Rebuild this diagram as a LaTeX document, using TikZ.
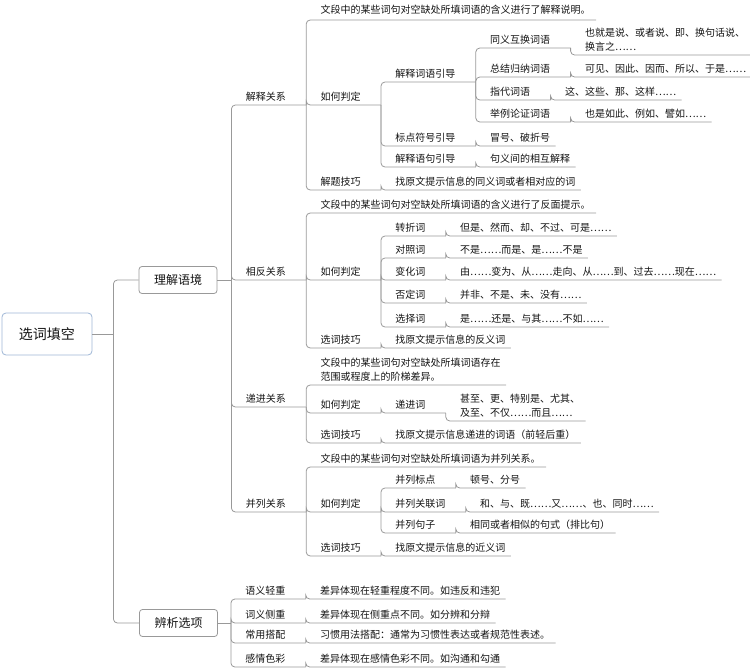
\documentclass[tikz,border=0pt]{standalone}
\usepackage{fontspec}
\setmainfont{Noto Sans CJK SC}
\usetikzlibrary{positioning}

\definecolor{linegray}{HTML}{999999}
\definecolor{rootblue}{HTML}{9FB6D6}
\definecolor{textdark}{HTML}{141414}

\begin{document}
\begin{tikzpicture}[x=1pt, y=-1pt, line width=0.8pt, text=textdark]
  \tikzstyle{rootbox}=[draw=rootblue, rounded corners=4pt, fill=white,
    minimum width=90pt, minimum height=42pt, font=\fontsize{14}{16}\selectfont]
  \tikzstyle{mainbox}=[draw=linegray, rounded corners=3pt, fill=white,
    minimum width=78pt, minimum height=27pt, font=\fontsize{12}{14}\selectfont]
  \tikzstyle{item}=[anchor=south west, inner xsep=0pt, inner ysep=3.5pt,
    font=\fontsize{10}{14}\selectfont, execute at begin node=\hspace*{14pt}]
  \tikzstyle{topic}=[item, text height=8.5pt, text depth=1pt,
    execute at end node=\hspace*{20pt}]
  \tikzstyle{leaf}=[item, text height=8.5pt, text depth=1pt,
    execute at end node=\hspace*{5pt}]
  \tikzstyle{note}=[item, align=left, execute at end node=\hspace*{5pt}]
  \tikzstyle{link}=[draw=linegray, rounded corners=4pt]

  \useasboundingbox (0,0) rectangle (750,669);

  % root and the two main branches
  \node[rootbox] (xcxk) at (47,334) {选词填空};
  \node[mainbox] (ljyj) at (178,280) {理解语境};
  \node[mainbox] (bxxx) at (178.5,623) {辨析选项};
  \coordinate[right=21pt of xcxk] (rj);
  \coordinate[right=14pt of ljyj] (lj);
  \coordinate[right=13pt of bxxx] (bx);

  % 解释关系
  \node[topic] (jsgx) at (lj |- 0,105) {解释关系};
  \node[leaf, inner ysep=5pt] (jsgx-ms) at (jsgx.south east |- 0,20) {文段中的某些词句对空缺处所填词语的含义进行了解释说明。};
  \node[topic] (jsgx-pd) at (jsgx.south east |- 0,105) {如何判定};
  \node[topic] (jsyd) at (jsgx-pd.south east |- 0,82) {解释词语引导};
  \node[topic] (tyhh) at (jsyd.south east |- 0,48) {同义互换词语};
  \node[note] (tyhh-l) at (tyhh.south east |- 0,55) {也就是说、或者说、即、换句话说、\\换言之……};
  \node[topic] (zjgn) at (jsyd.south east |- 0,77) {总结归纳词语};
  \node[leaf] (zjgn-l) at (zjgn.south east |- 0,77) {可见、因此、因而、所以、于是……};
  \node[topic] (zdcy) at (jsyd.south east |- 0,100) {指代词语};
  \node[leaf] (zdcy-l) at (zdcy.south east |- 0,100) {这、这些、那、这样……};
  \node[topic] (jllz) at (jsyd.south east |- 0,122) {举例论证词语};
  \node[leaf] (jllz-l) at (jllz.south east |- 0,122) {也是如此、例如、譬如……};
  \node[topic] (bdfh) at (jsgx-pd.south east |- 0,146) {标点符号引导};
  \node[leaf] (bdfh-l) at (bdfh.south east |- 0,146) {冒号、破折号};
  \node[topic] (jsjy) at (jsgx-pd.south east |- 0,167) {解释语句引导};
  \node[leaf] (jsjy-l) at (jsjy.south east |- 0,167) {句义间的相互解释};
  \node[topic] (jsgx-jq) at (jsgx.south east |- 0,190) {解题技巧};
  \node[leaf] (jsgx-jq-l) at (jsgx-jq.south east |- 0,190) {找原文提示信息的同义词或者相对应的词};

  % 相反关系
  \node[topic] (xfgx) at (lj |- 0,280) {相反关系};
  \node[leaf] (xfgx-ms) at (xfgx.south east |- 0,213) {文段中的某些词句对空缺处所填词语的含义进行了反面提示。};
  \node[topic] (xfgx-pd) at (xfgx.south east |- 0,280) {如何判定};
  \node[topic] (zzc) at (xfgx-pd.south east |- 0,236) {转折词};
  \node[leaf] (zzc-l) at (zzc.south east |- 0,236) {但是、然而、却、不过、可是……};
  \node[topic] (dzc) at (xfgx-pd.south east |- 0,258) {对照词};
  \node[leaf] (dzc-l) at (dzc.south east |- 0,258) {不是……而是、是……不是};
  \node[topic] (bhc) at (xfgx-pd.south east |- 0,280) {变化词};
  \node[leaf] (bhc-l) at (bhc.south east |- 0,280) {由……变为、从……走向、从……到、过去……现在……};
  \node[topic] (fdc) at (xfgx-pd.south east |- 0,303) {否定词};
  \node[leaf] (fdc-l) at (fdc.south east |- 0,303) {并非、不是、未、没有……};
  \node[topic] (xzc) at (xfgx-pd.south east |- 0,327) {选择词};
  \node[leaf] (xzc-l) at (xzc.south east |- 0,327) {是……还是、与其……不如……};
  \node[topic] (xfgx-jq) at (xfgx.south east |- 0,348) {选词技巧};
  \node[leaf] (xfgx-jq-l) at (xfgx-jq.south east |- 0,348) {找原文提示信息的反义词};

  % 递进关系
  \node[topic] (djgx) at (lj |- 0,407) {递进关系};
  \node[note] (djgx-ms) at (djgx.south east |- 0,385) {文段中的某些词句对空缺处所填词语存在\\范围或程度上的阶梯差异。};
  \node[topic] (djgx-pd) at (djgx.south east |- 0,413) {如何判定};
  \node[topic] (djc) at (djgx-pd.south east |- 0,413) {递进词};
  \node[note] (djc-l) at (djc.south east |- 0,421) {甚至、更、特别是、尤其、\\及至、不仅……而且……};
  \node[topic] (djgx-jq) at (djgx.south east |- 0,443) {选词技巧};
  \node[leaf] (djgx-jq-l) at (djgx-jq.south east |- 0,443) {找原文提示信息递进的词语（前轻后重）};

  % 并列关系
  \node[topic] (blgx) at (lj |- 0,512) {并列关系};
  \node[leaf] (blgx-ms) at (blgx.south east |- 0,467) {文段中的某些词句对空缺处所填词语为并列关系。};
  \node[topic] (blgx-pd) at (blgx.south east |- 0,512) {如何判定};
  \node[topic] (blbd) at (blgx-pd.south east |- 0,488) {并列标点};
  \node[leaf] (blbd-l) at (blbd.south east |- 0,488) {顿号、分号};
  \node[topic] (blgl) at (blgx-pd.south east |- 0,512) {并列关联词};
  \node[leaf] (blgl-l) at (blgl.south east |- 0,512) {和、与、既……又……、也、同时……};
  \node[topic] (bljz) at (blgx-pd.south east |- 0,533) {并列句子};
  \node[leaf] (bljz-l) at (bljz.south east |- 0,533) {相同或者相似的句式（排比句）};
  \node[topic] (blgx-jq) at (blgx.south east |- 0,556) {选词技巧};
  \node[leaf] (blgx-jq-l) at (blgx-jq.south east |- 0,556) {找原文提示信息的近义词};

  % 辨析选项
  \node[topic] (yyqz) at (bx |- 0,599) {语义轻重};
  \node[leaf] (yyqz-l) at (yyqz.south east |- 0,599) {差异体现在轻重程度不同。如违反和违犯};
  \node[topic] (cycz) at (bx |- 0,623) {词义侧重};
  \node[leaf] (cycz-l) at (cycz.south east |- 0,623) {差异体现在侧重点不同。如分辨和分辩};
  \node[topic] (cydp) at (bx |- 0,643) {常用搭配};
  \node[leaf] (cydp-l) at (cydp.south east |- 0,643) {习惯用法搭配：通常为习惯性表达或者规范性表述。};
  \node[topic] (qgsc) at (bx |- 0,667) {感情色彩};
  \node[leaf] (qgsc-l) at (qgsc.south east |- 0,667) {差异体现在感情色彩不同。如沟通和勾通};

  % connectors
  \draw[link] (xcxk) -- (rj);
  \draw[link] (rj) |- (ljyj);
  \draw[link] (rj) |- (bxxx);
  \draw[link] (ljyj) -- (lj);
  \draw[link] (bxxx) -- (bx);

  \draw[link] (lj) |- (jsgx.south east);
  \draw[link] (lj) |- (xfgx.south east);
  \draw[link] (lj) |- (djgx.south east);
  \draw[link] (lj) |- (blgx.south east);

  \draw[link] (jsgx.south east) |- (jsgx-ms.south east);
  \draw[link] (jsgx.south east) |- (jsgx-pd.south east);
  \draw[link] (jsgx.south east) |- (jsgx-jq.south east);
  \draw[link] (jsgx-pd.south east) |- (jsyd.south east);
  \draw[link] (jsgx-pd.south east) |- (bdfh.south east);
  \draw[link] (jsgx-pd.south east) |- (jsjy.south east);
  \draw[link] (jsyd.south east) |- (tyhh.south east);
  \draw[link] (jsyd.south east) |- (zjgn.south east);
  \draw[link] (jsyd.south east) |- (zdcy.south east);
  \draw[link] (jsyd.south east) |- (jllz.south east);
  \draw[link] (tyhh.south east) |- (tyhh-l.south east);
  \draw[link] (zjgn.south east) |- (zjgn-l.south east);
  \draw[link] (zdcy.south east) |- (zdcy-l.south east);
  \draw[link] (jllz.south east) |- (jllz-l.south east);
  \draw[link] (bdfh.south east) |- (bdfh-l.south east);
  \draw[link] (jsjy.south east) |- (jsjy-l.south east);
  \draw[link] (jsgx-jq.south east) |- (jsgx-jq-l.south east);

  \draw[link] (xfgx.south east) |- (xfgx-ms.south east);
  \draw[link] (xfgx.south east) |- (xfgx-pd.south east);
  \draw[link] (xfgx.south east) |- (xfgx-jq.south east);
  \draw[link] (xfgx-pd.south east) |- (zzc.south east);
  \draw[link] (xfgx-pd.south east) |- (dzc.south east);
  \draw[link] (xfgx-pd.south east) |- (bhc.south east);
  \draw[link] (xfgx-pd.south east) |- (fdc.south east);
  \draw[link] (xfgx-pd.south east) |- (xzc.south east);
  \draw[link] (zzc.south east) |- (zzc-l.south east);
  \draw[link] (dzc.south east) |- (dzc-l.south east);
  \draw[link] (bhc.south east) |- (bhc-l.south east);
  \draw[link] (fdc.south east) |- (fdc-l.south east);
  \draw[link] (xzc.south east) |- (xzc-l.south east);
  \draw[link] (xfgx-jq.south east) |- (xfgx-jq-l.south east);

  \draw[link] (djgx.south east) |- (djgx-ms.south east);
  \draw[link] (djgx.south east) |- (djgx-pd.south east);
  \draw[link] (djgx.south east) |- (djgx-jq.south east);
  \draw[link] (djgx-pd.south east) |- (djc.south east);
  \draw[link] (djc.south east) |- (djc-l.south east);
  \draw[link] (djgx-jq.south east) |- (djgx-jq-l.south east);

  \draw[link] (blgx.south east) |- (blgx-ms.south east);
  \draw[link] (blgx.south east) |- (blgx-pd.south east);
  \draw[link] (blgx.south east) |- (blgx-jq.south east);
  \draw[link] (blgx-pd.south east) |- (blbd.south east);
  \draw[link] (blgx-pd.south east) |- (blgl.south east);
  \draw[link] (blgx-pd.south east) |- (bljz.south east);
  \draw[link] (blbd.south east) |- (blbd-l.south east);
  \draw[link] (blgl.south east) |- (blgl-l.south east);
  \draw[link] (bljz.south east) |- (bljz-l.south east);
  \draw[link] (blgx-jq.south east) |- (blgx-jq-l.south east);

  \draw[link] (bx) |- (yyqz.south east);
  \draw[link] (bx) |- (cycz.south east);
  \draw[link] (bx) |- (cydp.south east);
  \draw[link] (bx) |- (qgsc.south east);
  \draw[link] (yyqz.south east) |- (yyqz-l.south east);
  \draw[link] (cycz.south east) |- (cycz-l.south east);
  \draw[link] (cydp.south east) |- (cydp-l.south east);
  \draw[link] (qgsc.south east) |- (qgsc-l.south east);
\end{tikzpicture}
\end{document}
